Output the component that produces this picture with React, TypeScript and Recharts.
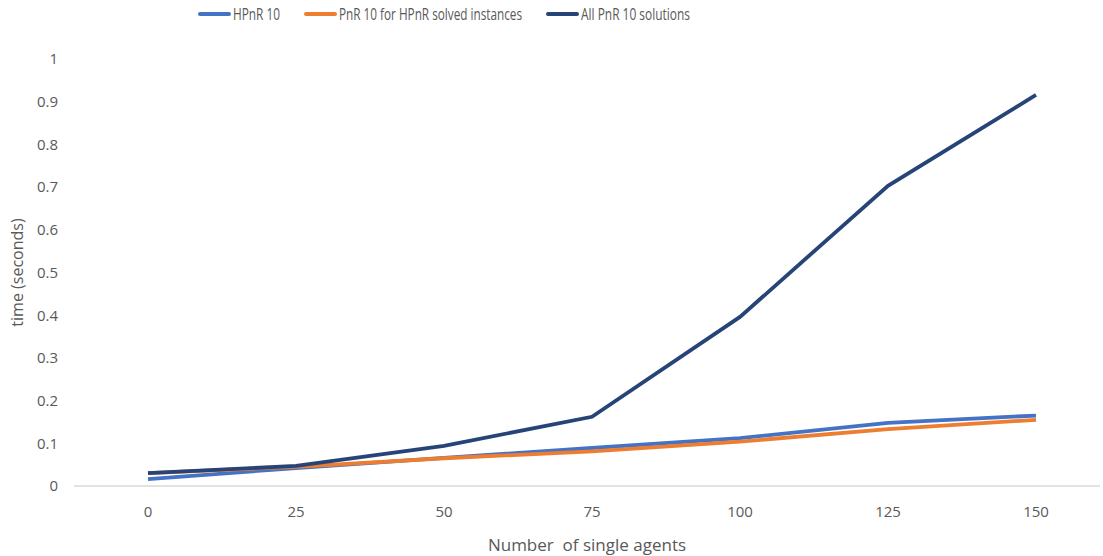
import React from "react";
import { LineChart, Line, XAxis, YAxis, Legend, Label } from "recharts";

const agents = ["0", "25", "50", "75", "100", "125", "150"];
const hpnr = [0.016, 0.042, 0.066, 0.089, 0.112, 0.148, 0.165];
const pnrSolved = [0.03, 0.045, 0.065, 0.081, 0.104, 0.133, 0.155];
const allPnr = [0.03, 0.047, 0.094, 0.162, 0.396, 0.703, 0.916];
const yTicks = [0, 0.1, 0.2, 0.3, 0.4, 0.5, 0.6, 0.7, 0.8, 0.9, 1];

const seriesNames = ["HPnR 10", "PnR 10 for HPnR solved instances", "All PnR 10 solutions"];
const seriesColors = ["#4472C4", "#ED7D31", "#264478"];
const legendTextWidths = [47, 183, 109];

const data = agents.map((a, i) => ({
  agents: a,
  hpnr: hpnr[i],
  pnrSolved: pnrSolved[i],
  allPnr: allPnr[i],
}));

const FONT = '"Open Sans", "Liberation Sans", sans-serif';
const TEXT = "#595959";

const LegendContent = () => {
  let x = 0;
  const items = seriesNames.map((n, i) => {
    const x0 = x;
    x += 35 + legendTextWidths[i] + 24;
    return (
      <g key={n}>
        <line x1={x0 + 2} y1={14} x2={x0 + 31} y2={14} stroke={seriesColors[i]} strokeWidth={4} strokeLinecap="round" />
        <text
          x={x0 + 35}
          y={19.5}
          textLength={legendTextWidths[i]}
          lengthAdjust="spacingAndGlyphs"
          fill={TEXT}
          fontSize={16}
          fontFamily={FONT}
        >
          {n}
        </text>
      </g>
    );
  });
  return (
    <svg width={620} height={28} style={{ display: "block" }}>
      {items}
    </svg>
  );
};

export default function App() {
  return (
    <div style={{ width: 1103, height: 556, background: "#fff" }}>
      <style>{"body{margin:0;background:#fff}"}</style>
      <LineChart width={1103} height={556} data={data} margin={{ top: 31, right: 3, bottom: 0, left: 0 }}>
        <XAxis
          dataKey="agents"
          height={70}
          padding={{ left: 74, right: 64 }}
          axisLine={{ stroke: "#D9D9D9", strokeWidth: 1.5 }}
          tickLine={false}
          tickMargin={14}
          tick={{ fill: TEXT, fontSize: 15, fontFamily: FONT }}
        >
          <Label value={"Number\u00A0 of single agents"} position="insideBottom" offset={5} style={{ fill: TEXT, fontSize: 17, fontFamily: FONT }} />
        </XAxis>
        <YAxis
          width={74}
          domain={[0, 1]}
          ticks={yTicks}
          interval={0}
          axisLine={false}
          tickLine={false}
          tickMargin={10}
          tick={{ fill: TEXT, fontSize: 15, fontFamily: FONT }}
        >
          <Label value="time (seconds)" angle={-90} position="insideLeft" offset={17} style={{ fill: TEXT, fontSize: 16, fontFamily: FONT, textAnchor: "middle" }} />
        </YAxis>
        <Legend
          verticalAlign="top"
          content={<LegendContent />}
          wrapperStyle={{ position: "absolute", left: 198, top: 0, width: "auto", height: 28 }}
        />
        <Line type="linear" dataKey="hpnr" stroke={seriesColors[0]} strokeWidth={3.8} dot={false} isAnimationActive={false} />
        <Line type="linear" dataKey="pnrSolved" stroke={seriesColors[1]} strokeWidth={3.8} dot={false} isAnimationActive={false} />
        <Line type="linear" dataKey="allPnr" stroke={seriesColors[2]} strokeWidth={3.8} dot={false} isAnimationActive={false} />
      </LineChart>
    </div>
  );
}
